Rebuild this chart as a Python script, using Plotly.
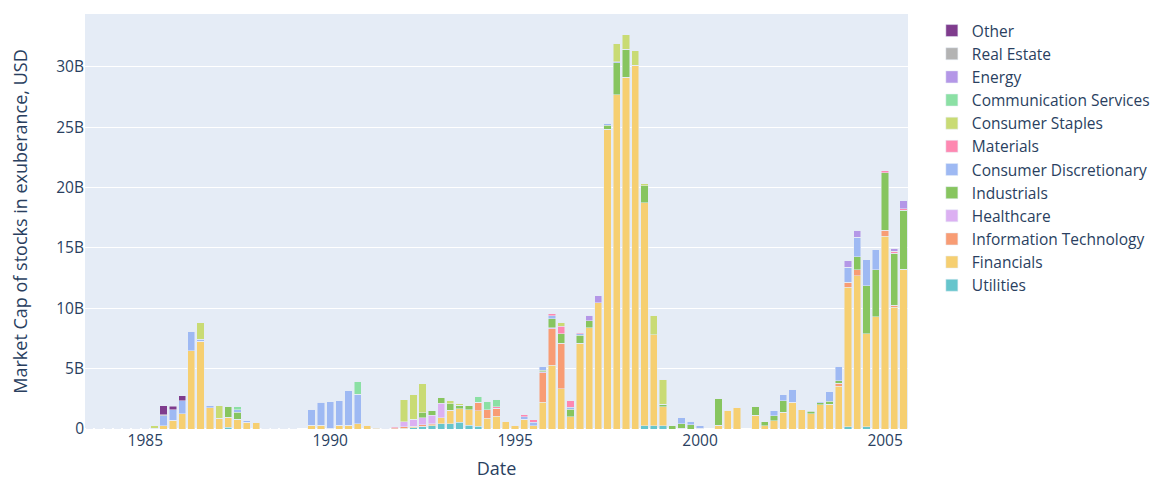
import pandas as pd
import plotly.graph_objects as go

dates = pd.date_range("1983-07-01", periods=89, freq="QS")

# values in billions USD, one entry per quarter (1983Q3 .. 2005Q3)
utilities = [0,0,0,0,0,0,0,0,0,0,
             0,0,0,0,0,0.14,0,0,0,0,
             0,0,0,0,0,0,0,0,0,0,
             0,0,0,0,0,0.1,0.19,0.27,0.45,0.42,
             0.55,0.3,0.22,0,0,0,0,0,0,0,
             0,0,0,0,0,0,0,0,0,0,
             0.28,0.28,0.28,0,0,0,0,0,0,0,
             0,0,0,0,0,0,0,0,0,0,
             0,0,0.19,0,0.19,0,0,0,0]
financials = [0.02,0.02,0.02,0.02,0.02,0.02,0.02,0.05,0.25,0.72,
              1.27,6.5,7.25,1.77,0.91,0.83,0.8,0.55,0.58,0,
              0,0.02,0.02,0,0.3,0.33,0.05,0.3,0.3,0.44,
              0.3,0.06,0,0.04,0.08,0.12,0.05,0.1,0.5,1.15,
              1.12,1.3,1.3,0.9,1.05,0.66,0.33,0.8,0.25,2.2,
              5.3,3.35,1.0,7.1,8.4,10.47,24.85,27.7,29.15,30.15,
              18.45,7.52,1.55,0,0.06,0,0.05,0,0.33,1.57,
              1.82,0,1.13,0.28,0.7,1.4,2.2,1.6,1.27,2.0,
              2.05,3.55,11.57,12.7,7.72,9.3,15.95,10.1,13.25]
info_tech = [0,0,0,0,0,0,0,0,0,0,
             0,0,0,0,0,0,0,0,0,0,
             0,0,0,0,0,0,0,0,0,0,
             0,0.04,0,0.06,0.1,0,0.1,0.05,0,0,
             0,0,0.7,0.7,0.68,0,0,0,0,2.45,
             3.0,3.75,0,0,0,0,0,0,0,0,
             0,0,0,0,0,0,0,0,0,0,
             0,0,0,0,0,0,0,0,0,0,
             0,0.22,0.39,0.5,0,0,0.52,0.14,0]
healthcare = [0,0,0,0,0,0,0,0,0,0,
              0,0,0,0,0,0,0,0,0,0,
              0,0,0,0,0,0,0,0,0,0,
              0,0,0,0,0.41,0.6,0.6,0.72,1.18,0,
              0,0,0,0,0,0,0,0,0,0.08,
              0.1,0,0,0,0,0,0,0,0,0,
              0,0,0,0,0,0,0,0,0,0,
              0,0,0,0,0,0,0,0,0,0,
              0,0,0,0,0,0,0,0,0]
industrials = [0,0,0,0,0,0,0,0,0,0,
               0,0,0,0,0,0.91,0.6,0,0,0,
               0,0,0,0,0,0,0,0,0,0,
               0,0,0,0,0,0,0.41,0.41,0.5,0.52,
               0.28,0.33,0,0,0,0,0,0,0,0.12,
               0.72,0.8,0.65,0.65,0.58,0,0.3,2.65,2.32,0,
               1.41,0,0.22,0.28,0.36,0.35,0,0,2.2,0,
               0,0,0.75,0.33,0.41,0.95,0,0,0.19,0.19,
               0.25,0.22,0,1.08,3.95,3.9,4.75,4.33,4.86]
cons_disc = [0,0,0,0,0,0,0,0,0.85,0.88,
             1.08,1.6,0.2,0.14,0,0,0.19,0.17,0,0.05,
             0.02,0,0,0,1.35,1.9,2.2,2.05,2.87,2.45,
             0,0,0,0,0,0,0,0,0,0,
             0,0,0,0,0,0,0,0.2,0.3,0.3,
             0.27,0,0.14,0.15,0,0,0.17,0.08,0,0,
             0,0,0,0,0.55,0.3,0.22,0,0,0,
             0,0,0,0,0.4,0.47,1.08,0,0.04,0.11,
             0.8,1.22,1.19,1.6,2.15,1.66,0,0,0]
materials = [0,0,0,0,0,0,0,0,0,0,
             0,0,0,0,0,0,0,0,0,0,
             0,0,0,0,0,0,0,0,0,0,
             0,0,0,0.08,0,0,0,0,0,0,
             0,0,0,0,0.12,0,0,0.2,0.22,0,
             0.14,0.6,0.6,0.08,0,0,0,0,0,0,
             0,0,0,0,0,0,0,0,0,0,
             0,0,0,0,0,0,0,0,0,0,
             0,0,0.05,0,0,0,0.17,0.14,0.14]
cons_staples = [0,0,0,0,0,0,0,0.2,0,0,
                0,0,1.35,0,1.0,0,0,0,0,0,
                0,0,0,0,0,0.05,0,0,0,0,
                0,0,0.08,0,1.85,2.05,2.4,0,0,0.28,
                0.17,0,0,0,0,0,0,0,0,0,
                0,0.35,0,0,0,0,0,1.52,1.19,1.22,
                0.17,1.63,2.08,0,0,0,0,0,0,0,
                0,0,0,0,0,0,0,0,0,0,
                0,0,0,0,0,0,0,0,0]
comm_services = [0,0,0,0,0,0,0,0,0,0,
                 0,0,0,0,0,0,0.28,0,0,0,
                 0,0,0,0,0,0,0,0,0,1.05,
                 0,0,0,0,0,0,0,0,0,0,
                 0,0,0.5,0.7,0.62,0,0,0,0,0,
                 0,0,0,0,0,0,0,0,0,0,
                 0,0,0,0,0,0,0,0,0,0,
                 0,0,0,0,0,0,0,0,0,0,
                 0,0,0,0,0,0,0,0,0]
energy = [0,0,0,0,0,0,0,0,0,0,
          0,0,0,0,0,0,0,0,0,0,
          0,0,0,0,0,0,0,0,0,0,
          0,0,0,0,0,0,0,0,0,0,
          0,0,0,0,0,0,0,0,0,0,
          0,0,0,0,0.45,0.58,0,0,0,0,
          0,0,0,0,0,0,0,0,0,0,
          0,0,0,0,0,0,0,0,0,0,
          0,0,0.53,0.58,0,0,0,0.25,0.66]
real_estate = [0,0,0,0,0,0,0,0,0.1,0] + [0] * 79
other = [0,0,0,0,0,0,0,0,0.72,0.3,
         0.41] + [0] * 78

sectors = ["Utilities", "Financials", "Information Technology", "Healthcare",
           "Industrials", "Consumer Discretionary", "Materials", "Consumer Staples",
           "Communication Services", "Energy", "Real Estate", "Other"]
series = [utilities, financials, info_tech, healthcare, industrials, cons_disc,
          materials, cons_staples, comm_services, energy, real_estate, other]
colors = ["rgb(102, 197, 204)", "rgb(246, 207, 113)", "rgb(248, 156, 116)",
          "rgb(220, 176, 242)", "rgb(135, 197, 95)", "rgb(158, 185, 243)",
          "rgb(254, 136, 177)", "rgb(201, 219, 116)", "rgb(139, 224, 164)",
          "rgb(180, 151, 231)", "rgb(179, 179, 179)", "rgb(127, 60, 141)"]

fig = go.Figure()
for name, vals, col in zip(sectors, series, colors):
    fig.add_trace(go.Bar(x=dates, y=[v * 1e9 for v in vals], name=name,
                         marker_color=col))

fig.update_layout(
    template="plotly",
    barmode="stack",
    width=1154, height=480,
    margin=dict(l=85, r=246, t=14, b=51, autoexpand=False),
    font=dict(family="Open Sans, sans-serif", size=15.5),
    legend=dict(x=1.029, y=1),
    xaxis=dict(automargin=False, tickfont=dict(size=15.5),
               title=dict(text="Date", font=dict(size=18), standoff=18)),
    yaxis=dict(automargin=False, tickfont=dict(size=15.5),
               title=dict(text="Market Cap of stocks in exuberance, USD",
                          font=dict(size=18), standoff=23)),
)
fig.write_html("out.html", config={"displayModeBar": False},
               post_script="document.body.style.margin='0';document.body.style.overflow='hidden';")
